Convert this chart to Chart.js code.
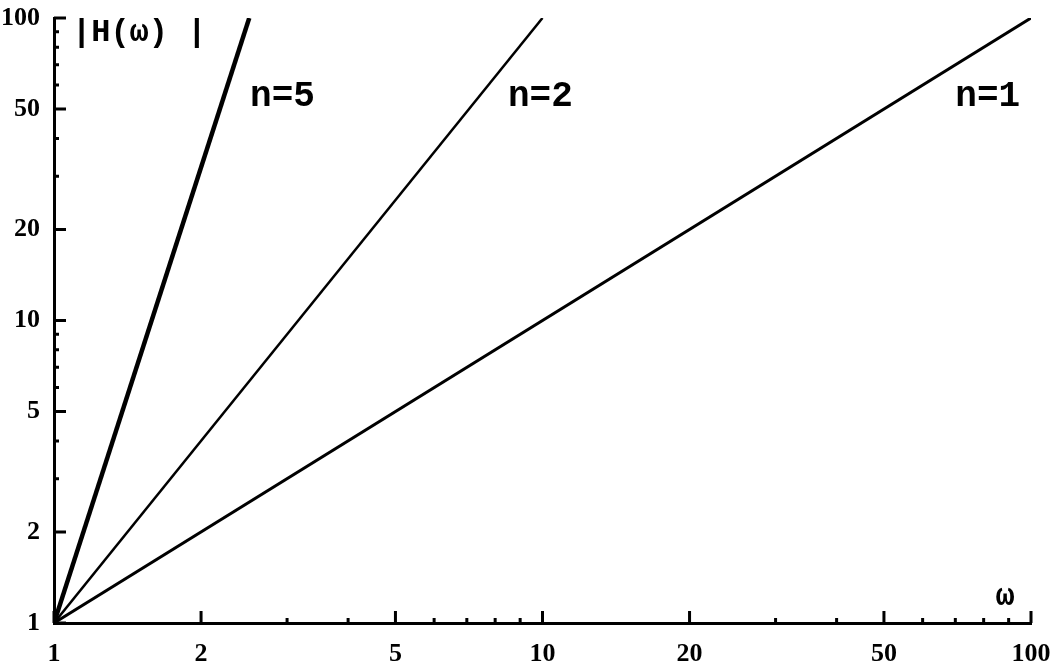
<!DOCTYPE html>
<html>
<head>
<meta charset="utf-8">
<script src="https://cdn.jsdelivr.net/npm/chart.js@4"></script>
<style>
  html, body { margin: 0; padding: 0; background: #fff; }
  #wrap { width: 1057px; height: 669px; }
</style>
</head>
<body>
<div id="wrap"><canvas id="magChart" width="1057" height="669"></canvas></div>
<script>
// frequency (omega) and |H(omega)| end points of each straight log-log line
const omegaN1 = [1, 100];
const omegaN2 = [1, 10];
const omegaN5 = [1, 2.51];
const magH = [1, 100];

// tick values
const xTicks = [1, 2, 5, 10, 20, 50, 100];
const yTicks = [1, 2, 5, 10, 20, 50, 100];
const minorTicks = [3, 4, 6, 7, 8, 9, 30, 40, 60, 70, 80, 90];

// curve labels, placed in data coordinates (left edge, baseline)
const curveNames = ["n=5", "n=2", "n=1"];
const labelX = [2.52, 8.5, 70];
const labelY = [51, 51, 51];

const MONO = "'Liberation Mono', 'DejaVu Sans Mono', monospace";
const SERIF = "'Liberation Serif', 'DejaVu Serif', serif";

function toPoints(xs, ys) {
  return xs.map((x, i) => ({ x: x, y: ys[i] }));
}

// draws the inward ticks, curve names and axis titles
const decorations = {
  id: "decorations",
  afterDraw(chart) {
    const ctx = chart.ctx;
    const xs = chart.scales.x;
    const ys = chart.scales.y;
    const area = chart.chartArea;
    ctx.save();
    ctx.strokeStyle = "#000";
    ctx.lineWidth = 3;

    ctx.beginPath();
    xTicks.forEach((v) => {
      const px = xs.getPixelForValue(v);
      ctx.moveTo(px, area.bottom);
      ctx.lineTo(px, area.bottom - 12);
    });
    yTicks.forEach((v) => {
      const py = ys.getPixelForValue(v);
      ctx.moveTo(area.left, py);
      ctx.lineTo(area.left + 12, py);
    });
    ctx.stroke();

    ctx.beginPath();
    minorTicks.forEach((v) => {
      const px = xs.getPixelForValue(v);
      ctx.moveTo(px, area.bottom);
      ctx.lineTo(px, area.bottom - 5);
      const py = ys.getPixelForValue(v);
      ctx.moveTo(area.left, py);
      ctx.lineTo(area.left + 5, py);
    });
    ctx.stroke();

    ctx.fillStyle = "#000";
    ctx.font = "bold 36px " + MONO;
    ctx.textBaseline = "alphabetic";
    ctx.textAlign = "left";
    curveNames.forEach((name, i) => {
      ctx.fillText(name, xs.getPixelForValue(labelX[i]), ys.getPixelForValue(labelY[i]));
    });

    // y axis title
    ctx.font = "bold 32px " + MONO;
    ctx.fillText("|H(ω) |", area.left + 18, area.top + 23);

    // x axis title
    ctx.textAlign = "center";
    ctx.fillText("ω", area.right - 26, area.bottom - 18);
    ctx.restore();
  }
};

const ctx = document.getElementById("magChart").getContext("2d");
new Chart(ctx, {
  type: "line",
  data: {
    datasets: [
      { label: "n=5", data: toPoints(omegaN5, magH), borderColor: "#000", borderWidth: 4.5 },
      { label: "n=2", data: toPoints(omegaN2, magH), borderColor: "#000", borderWidth: 2.5 },
      { label: "n=1", data: toPoints(omegaN1, magH), borderColor: "#000", borderWidth: 3 }
    ]
  },
  options: {
    responsive: false,
    animation: false,
    elements: { point: { radius: 0 }, line: { tension: 0 } },
    layout: { padding: { top: 0, right: 26, left: 0, bottom: 0 } },
    plugins: { legend: { display: false }, tooltip: { enabled: false } },
    scales: {
      x: {
        type: "logarithmic",
        min: 1,
        max: 100,
        grid: { display: false },
        border: { display: true, color: "#000", width: 3 },
        afterBuildTicks(scale) { scale.ticks = xTicks.map((v) => ({ value: v })); },
        afterFit(scale) {
          scale.height = 46;
          scale.paddingLeft = 0;
          scale.paddingRight = 0;
        },
        ticks: {
          color: "#000",
          padding: 8,
          maxRotation: 0,
          autoSkip: false,
          font: { family: SERIF, size: 26, weight: "bold" },
          callback: (v) => String(v)
        }
      },
      y: {
        type: "logarithmic",
        min: 1,
        max: 100,
        grid: { display: false },
        border: { display: true, color: "#000", width: 3 },
        afterBuildTicks(scale) { scale.ticks = yTicks.map((v) => ({ value: v })); },
        afterFit(scale) {
          scale.width = 54;
          scale.paddingTop = 18;
          scale.paddingBottom = 0;
        },
        ticks: {
          color: "#000",
          padding: 6,
          autoSkip: false,
          font: { family: SERIF, size: 26, weight: "bold" },
          callback: (v) => String(v)
        }
      }
    }
  },
  plugins: [decorations]
});
</script>
</body>
</html>
